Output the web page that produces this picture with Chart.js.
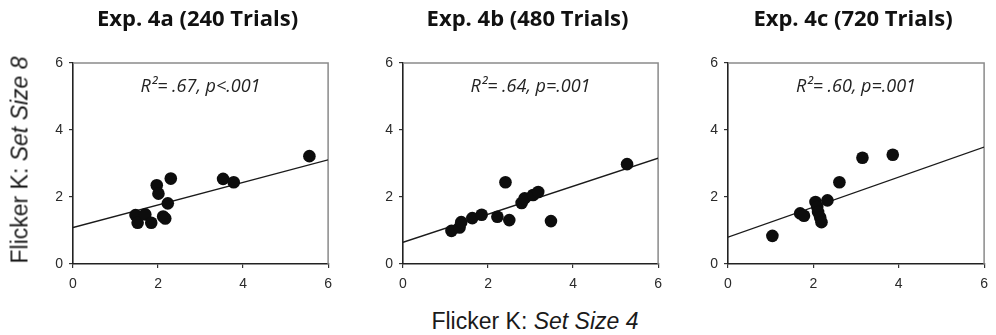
<!DOCTYPE html>
<html>
<head>
<meta charset="utf-8">
<script src="https://cdn.jsdelivr.net/npm/chart.js@4.4.1/dist/chart.umd.min.js"></script>
<style>
  body { margin: 0; background: #fff; }
  #wrap { position: relative; width: 996px; height: 335px; overflow: hidden; }
  canvas { position: absolute; top: 0; }
  .axis-label {
    position: absolute;
    font-family: "Liberation Sans", Arial, sans-serif;
    font-size: 23px;
    color: #1a1a1a;
    white-space: nowrap;
    transform: translate(-50%, -50%);
  }
  #y-label { left: 20px; top: 160px; transform: translate(-50%, -50%) rotate(-90deg); }
  #x-label { left: 535px; top: 321px; }
</style>
</head>
<body>
<div id="wrap">
  <canvas id="chart-a" width="340" height="300" style="left:0px"></canvas>
  <canvas id="chart-b" width="330" height="300" style="left:340px"></canvas>
  <canvas id="chart-c" width="326" height="300" style="left:670px"></canvas>
  <div class="axis-label" id="y-label">Flicker K: <i>Set Size 8</i></div>
  <div class="axis-label" id="x-label">Flicker K: <i>Set Size 4</i></div>
</div>
<script>
// DATA
const titles = ["Exp. 4a (240 Trials)", "Exp. 4b (480 Trials)", "Exp. 4c (720 Trials)"];
const statTexts = ["R²= .67, p<.001", "R²= .64, p=.001", "R²= .60, p=.001"];
const tickValues = [0, 2, 4, 6];

// set size 4 (x) and set size 8 (y)
const exp4aX = [1.47, 1.52, 1.70, 1.84, 1.97, 2.01, 2.12, 2.17, 2.23, 2.30, 3.53, 3.78, 5.56];
const exp4aY = [1.46, 1.23, 1.48, 1.23, 2.35, 2.10, 1.42, 1.36, 1.81, 2.55, 2.54, 2.44, 3.22];
const exp4bX = [1.14, 1.33, 1.37, 1.63, 1.85, 2.22, 2.41, 2.50, 2.79, 2.86, 3.06, 3.18, 3.48, 5.27];
const exp4bY = [0.99, 1.09, 1.25, 1.37, 1.47, 1.41, 2.44, 1.31, 1.82, 1.96, 2.06, 2.15, 1.28, 2.98];
const exp4cX = [1.04, 1.69, 1.78, 2.05, 2.09, 2.11, 2.16, 2.19, 2.33, 2.61, 3.15, 3.86];
const exp4cY = [0.84, 1.51, 1.44, 1.85, 1.70, 1.55, 1.39, 1.25, 1.90, 2.44, 3.17, 3.26];

// fitted regression line, value at x=0 and x=6
const fitX = [0, 6];
const fitA = [1.09, 3.11];
const fitB = [0.65, 3.16];
const fitC = [0.80, 3.49];

const panels = [
  { id: "chart-a", xs: exp4aX, ys: exp4aY, fit: fitA, yWidth: 73, padRight: 6 },
  { id: "chart-b", xs: exp4bX, ys: exp4bY, fit: fitB, yWidth: 63, padRight: 7 },
  { id: "chart-c", xs: exp4cX, ys: exp4cY, fit: fitC, yWidth: 58, padRight: 6 },
];

// frame, title and R2 text
const panelDecor = {
  id: "panelDecor",
  beforeDatasetsDraw(chart) {
    const a = chart.chartArea;
    const ctx = chart.ctx;
    ctx.save();
    ctx.strokeStyle = "#8a8a8a";
    ctx.lineWidth = 1.5;
    ctx.beginPath();
    ctx.moveTo(a.left, a.top);
    ctx.lineTo(a.right, a.top);
    ctx.lineTo(a.right, a.bottom);
    ctx.stroke();
    ctx.restore();
  },
  afterDraw(chart, args, opts) {
    const a = chart.chartArea;
    const ctx = chart.ctx;
    const cx = (a.left + a.right) / 2;
    ctx.save();
    ctx.fillStyle = "#111";
    ctx.textAlign = "center";
    ctx.textBaseline = "middle";
    ctx.font = "bold 22px 'Open Sans'";
    ctx.fillText(opts.title, cx - 3, 20);
    ctx.textBaseline = "alphabetic";
    ctx.fillStyle = "#222";
    ctx.font = "italic 18px 'Open Sans'";
    ctx.fillText(opts.stat, cx, 92);
    ctx.restore();
  },
};

function axisOptions(isY, p) {
  return {
    type: "linear",
    min: 0,
    max: 6,
    afterBuildTicks: (scale) => {
      scale.ticks = tickValues.map((v) => ({ value: v }));
    },
    afterFit: (scale) => {
      if (isY) scale.width = p.yWidth;
      else scale.height = 36;
    },
    ticks: {
      color: "#2a2a2a",
      padding: isY ? 6 : 8,
      font: { family: "'Liberation Sans', Arial", size: 14 },
    },
    grid: { display: true, drawOnChartArea: false, drawTicks: true, tickLength: 4, color: "#333", lineWidth: 1.2 },
    border: { display: true, color: "#222", width: 1.6 },
  };
}

panels.forEach((p, i) => {
  new Chart(document.getElementById(p.id), {
    type: "scatter",
    data: {
      datasets: [
        {
          data: p.xs.map((x, k) => ({ x: x, y: p.ys[k] })),
          backgroundColor: "#0d0d0d",
          borderColor: "#0d0d0d",
          pointRadius: 6.3,
          borderWidth: 0,
        },
        {
          type: "line",
          data: fitX.map((x, k) => ({ x: x, y: p.fit[k] })),
          borderColor: "#1a1a1a",
          borderWidth: 1.4,
          pointRadius: 0,
          fill: false,
        },
      ],
    },
    options: {
      responsive: false,
      animation: false,
      layout: { padding: { top: 63, left: 0, right: p.padRight, bottom: 0 } },
      plugins: {
        legend: { display: false },
        tooltip: { enabled: false },
        panelDecor: { title: titles[i], stat: statTexts[i] },
      },
      scales: { x: axisOptions(false, p), y: axisOptions(true, p) },
    },
    plugins: [panelDecor],
  });
});
</script>
</body>
</html>
